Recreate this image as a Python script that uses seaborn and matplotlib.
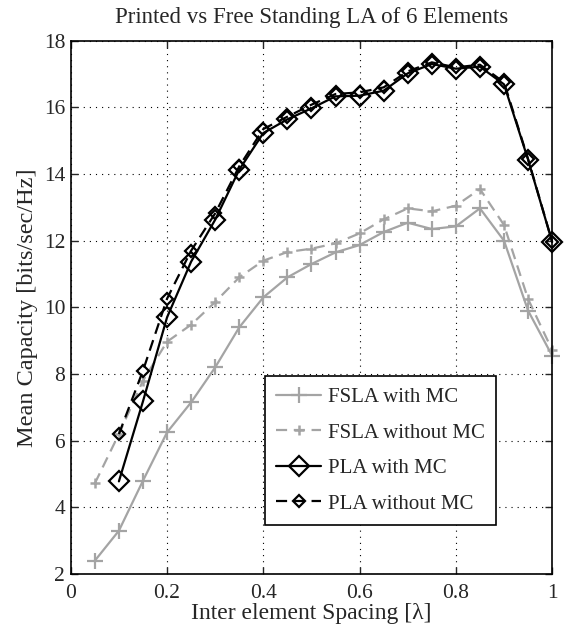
import seaborn as sns
import matplotlib
matplotlib.use("Agg")
import matplotlib.pyplot as plt
import pandas as pd

# style first, then fonts (set_style resets font.family)
sns.set_style("ticks")
plt.rcParams["font.family"] = ["Liberation Serif", "DejaVu Serif"]
plt.rcParams["xtick.direction"] = "in"
plt.rcParams["ytick.direction"] = "in"

## data
spacing_fsla = [0.05, 0.10, 0.15, 0.20, 0.25, 0.30, 0.35, 0.40, 0.45, 0.50,
                0.55, 0.60, 0.65, 0.70, 0.75, 0.80, 0.85, 0.90, 0.95, 1.00]
fsla_with_mc = [2.4, 3.3, 4.8, 6.25, 7.15, 8.2, 9.4, 10.3, 10.9, 11.3,
                11.65, 11.87, 12.26, 12.54, 12.35, 12.43, 12.97, 12.0, 9.9, 8.55]
fsla_without_mc = [4.72, 6.2, 7.8, 8.97, 9.48, 10.16, 10.9, 11.4, 11.66, 11.76,
                   11.92, 12.22, 12.64, 12.97, 12.88, 13.05, 13.55, 12.47, 10.25, 8.72]

spacing_pla = [0.10, 0.15, 0.20, 0.25, 0.30, 0.35, 0.40, 0.45, 0.50,
               0.55, 0.60, 0.65, 0.70, 0.75, 0.80, 0.85, 0.90, 0.95, 1.00]
pla_with_mc = [4.78, 7.18, 9.7, 11.37, 12.63, 14.13, 15.23, 15.64, 15.97,
               16.33, 16.35, 16.5, 17.02, 17.3, 17.16, 17.22, 16.69, 14.43, 11.96]
pla_without_mc = [6.2, 8.1, 10.26, 11.7, 12.82, 14.23, 15.35, 15.72, 16.08,
                  16.4, 16.45, 16.6, 17.08, 17.35, 17.2, 17.28, 16.75, 14.45, 11.97]

x_ticks = [0, 0.2, 0.4, 0.6, 0.8, 1]
x_ticklabels = ["0", "0.2", "0.4", "0.6", "0.8", "1"]
y_ticks = [2, 4, 6, 8, 10, 12, 14, 16, 18]

gray = "#a4a4a4"

fig = plt.figure(figsize=(5.8, 6.26), dpi=100)
ax = fig.add_axes([0.122, 0.083, 0.830, 0.852])

df_fsla = pd.DataFrame({"x": spacing_fsla, "with": fsla_with_mc, "without": fsla_without_mc})
df_pla = pd.DataFrame({"x": spacing_pla, "with": pla_with_mc, "without": pla_without_mc})

sns.lineplot(data=df_fsla, x="x", y="with", ax=ax, color=gray, linewidth=1.6,
             marker="+", markersize=11, markeredgewidth=1.6, markeredgecolor=gray,
             label="FSLA with MC", clip_on=False)
sns.lineplot(data=df_fsla, x="x", y="without", ax=ax, color=gray, linewidth=1.6,
             linestyle=(0, (5, 3)), marker="+", markersize=6.5, markeredgewidth=1.8,
             markeredgecolor=gray, label="FSLA without MC", clip_on=False)
sns.lineplot(data=df_pla, x="x", y="with", ax=ax, color="black", linewidth=1.6,
             marker="D", markersize=10, markeredgewidth=1.6, markeredgecolor="black",
             markerfacecolor="none", label="PLA with MC", clip_on=False)
sns.lineplot(data=df_pla, x="x", y="without", ax=ax, color="black", linewidth=1.6,
             linestyle=(0, (5, 3)), marker="D", markersize=6, markeredgewidth=1.6,
             markeredgecolor="black", markerfacecolor="none", label="PLA without MC",
             clip_on=False)

ax.set_xlim(0, 1)
ax.set_ylim(2, 18)
ax.set_xticks(x_ticks)
ax.set_xticklabels(x_ticklabels)
ax.set_yticks(y_ticks)
ax.tick_params(labelsize=15.5, top=True, right=True, length=5, width=1)
ax.tick_params(axis="x", pad=7)
ax.tick_params(axis="y", pad=4)
ax.grid(True, linestyle=(0, (1, 4.5)), color="black", linewidth=0.8)
for s in ax.spines.values():
    s.set_linewidth(1.2)
    s.set_color("black")

ax.set_xlabel("Inter element Spacing [λ]", fontsize=17, labelpad=0)
ax.set_ylabel("Mean Capacity [bits/sec/Hz]", fontsize=17.5, labelpad=4)
ax.set_title("Printed vs Free Standing LA of 6 Elements", fontsize=16.5, pad=13)

leg = ax.legend(loc="lower left", bbox_to_anchor=(0.403, 0.092), borderaxespad=0,
                fontsize=15, frameon=True, fancybox=False, edgecolor="black",
                framealpha=1, handlelength=2.16, handletextpad=0.33,
                borderpad=0.55, labelspacing=0.76)
leg.get_frame().set_linewidth(1.2)

fig.savefig("out.png", dpi=100)
